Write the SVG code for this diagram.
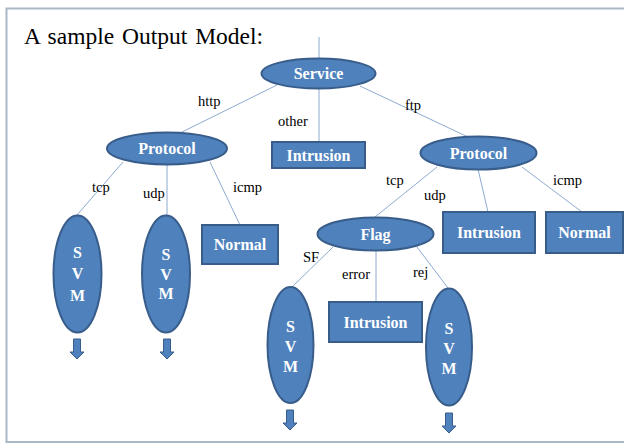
<svg xmlns="http://www.w3.org/2000/svg" width="624" height="443" viewBox="0 0 624 443">
<defs>
<style>
.n{fill:#4f81bd;stroke:#385d8a;stroke-width:2}
.t{font-family:"Liberation Serif",serif;font-weight:bold;font-size:16px;fill:#fff;text-anchor:middle}
.l{font-family:"Liberation Serif",serif;font-size:14.5px;fill:#000}
.c{stroke:#8eaad0;stroke-width:1;fill:none}
.a{fill:#4f81bd;stroke:#385d8a;stroke-width:1}
</style>
<polygon id="arr" class="a" points="-3.5,0 3.5,0 3.5,13 7,13 0,20 -7,13 -3.5,13"/>
</defs>
<rect x="0" y="0" width="624" height="443" fill="#fff"/>
<rect x="6.5" y="8.5" width="630" height="433.5" fill="none" stroke="#a9b8c8" stroke-width="2"/>
<text x="24" y="44" font-family="Liberation Serif,serif" font-size="23.5" fill="#000" word-spacing="2">A sample Output Model:</text>

<g id="connectors">
<line class="c" x1="319" y1="37" x2="319" y2="58"/>
<line class="c" x1="277" y1="85" x2="180" y2="133"/>
<line class="c" x1="319" y1="89" x2="319" y2="142"/>
<line class="c" x1="360" y1="86" x2="468" y2="137"/>
<line class="c" x1="123" y1="162" x2="77" y2="215"/>
<line class="c" x1="167" y1="165" x2="167" y2="215"/>
<line class="c" x1="210" y1="162" x2="240" y2="225"/>
<line class="c" x1="437" y1="167" x2="375" y2="217"/>
<line class="c" x1="478" y1="169" x2="488" y2="212"/>
<line class="c" x1="522" y1="167" x2="582" y2="212"/>
<line class="c" x1="333" y1="247" x2="292" y2="287"/>
<line class="c" x1="376" y1="251" x2="376" y2="302"/>
<line class="c" x1="417" y1="247" x2="448" y2="288"/>
<text class="l" x="198" y="106">http</text>
<text class="l" x="278" y="126">other</text>
<text class="l" x="405" y="110">ftp</text>
<text class="l" x="92" y="192">tcp</text>
<text class="l" x="143" y="198">udp</text>
<text class="l" x="233" y="192">icmp</text>
<text class="l" x="386" y="185">tcp</text>
<text class="l" x="424" y="200">udp</text>
<text class="l" x="553" y="185">icmp</text>
<text class="l" x="303" y="262">SF</text>
<text class="l" x="342" y="279">error</text>
<text class="l" x="413" y="277">rej</text>
</g>

<g id="service"><ellipse class="n" cx="318.5" cy="73.5" rx="57" ry="15"/><text class="t" x="318.5" y="79">Service</text></g>
<g id="protocol1"><ellipse class="n" cx="167" cy="148.5" rx="60" ry="16"/><text class="t" x="167" y="154">Protocol</text></g>
<g id="intrusion1"><rect class="n" x="272" y="142" width="93" height="26"/><text class="t" x="318.5" y="160.5">Intrusion</text></g>
<g id="protocol2"><ellipse class="n" cx="478.5" cy="153" rx="58" ry="16.5"/><text class="t" x="478.5" y="158.5">Protocol</text></g>

<g id="svm1"><ellipse class="n" cx="77.5" cy="274" rx="24" ry="58.5"/><text class="t" x="77.5" y="258">S</text><text class="t" x="77.5" y="279">V</text><text class="t" x="77.5" y="301">M</text></g>
<g id="svm2"><ellipse class="n" cx="166" cy="274" rx="24" ry="58.5"/><text class="t" x="166" y="260">S</text><text class="t" x="166" y="280">V</text><text class="t" x="166" y="299">M</text></g>
<g id="normal1"><rect class="n" x="202" y="225" width="76" height="39"/><text class="t" x="240" y="250">Normal</text></g>

<g id="flag"><ellipse class="n" cx="375.5" cy="234" rx="58" ry="16.5"/><text class="t" x="375.5" y="239.5">Flag</text></g>
<g id="intrusion2"><rect class="n" x="443" y="212" width="92" height="41"/><text class="t" x="489" y="238">Intrusion</text></g>
<g id="normal2"><rect class="n" x="546" y="212" width="77" height="41"/><text class="t" x="584.5" y="238">Normal</text></g>

<g id="svm3"><ellipse class="n" cx="290.5" cy="345" rx="23" ry="58"/><text class="t" x="290.5" y="332">S</text><text class="t" x="290.5" y="352">V</text><text class="t" x="290.5" y="372">M</text></g>
<g id="intrusion3"><rect class="n" x="329" y="302" width="93" height="40"/><text class="t" x="375.5" y="328">Intrusion</text></g>
<g id="svm4"><ellipse class="n" cx="449" cy="347" rx="23" ry="58.5"/><text class="t" x="449" y="334">S</text><text class="t" x="449" y="354">V</text><text class="t" x="449" y="374">M</text></g>

<g id="arrows">
<use href="#arr" x="77" y="339"/>
<use href="#arr" x="167" y="339"/>
<use href="#arr" x="290" y="410"/>
<use href="#arr" x="449" y="413"/>
</g>
</svg>
